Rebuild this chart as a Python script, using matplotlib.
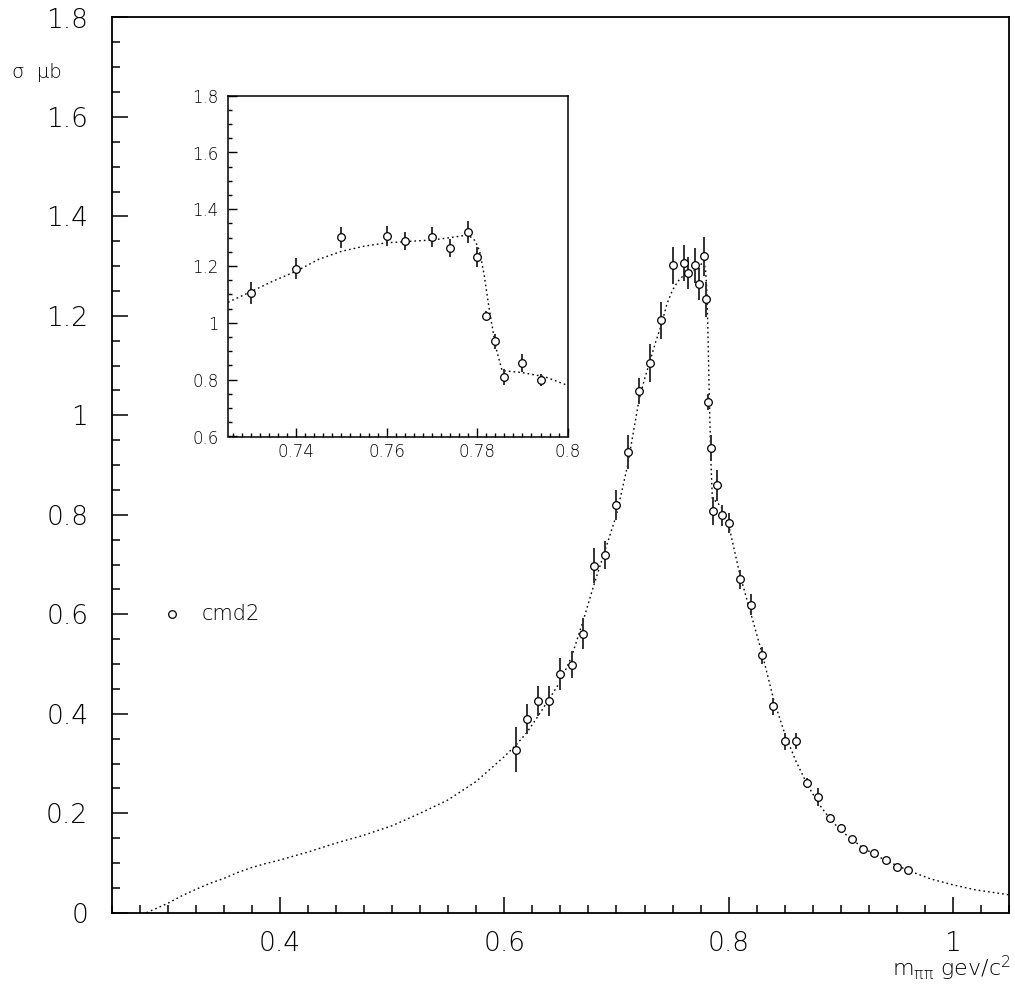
import matplotlib
matplotlib.use("Agg")
import matplotlib.pyplot as plt
import numpy as np
from matplotlib.ticker import MultipleLocator, FixedLocator

plt.rcParams['font.family'] = ['DejaVu Sans']
plt.rcParams['font.weight'] = 'light'
plt.rcParams['mathtext.fontset'] = 'custom'
plt.rcParams['mathtext.rm'] = 'DejaVu Sans:weight=light'
plt.rcParams['mathtext.it'] = 'DejaVu Sans:weight=light'
plt.rcParams['mathtext.default'] = 'regular'

# ---- data (cmd2 points) ----
mass = [0.61, 0.62, 0.63, 0.64, 0.65, 0.66, 0.67, 0.68, 0.69, 0.70,
        0.71, 0.72, 0.73, 0.74, 0.75, 0.76, 0.764, 0.77, 0.774, 0.778,
        0.78, 0.782, 0.784, 0.786, 0.79, 0.794, 0.80, 0.81, 0.82, 0.83,
        0.84, 0.85, 0.86, 0.87, 0.88, 0.89, 0.90, 0.91, 0.92, 0.93,
        0.94, 0.95, 0.96]
sigma = [0.328, 0.390, 0.426, 0.426, 0.480, 0.499, 0.561, 0.698, 0.720, 0.820,
         0.927, 1.049, 1.106, 1.191, 1.302, 1.306, 1.287, 1.302, 1.264, 1.320,
         1.233, 1.026, 0.935, 0.808, 0.859, 0.799, 0.783, 0.670, 0.619, 0.518,
         0.415, 0.345, 0.345, 0.260, 0.232, 0.191, 0.171, 0.148, 0.129, 0.120,
         0.106, 0.092, 0.085]
sigma_err = [0.046, 0.030, 0.030, 0.030, 0.032, 0.028, 0.031, 0.035, 0.028, 0.030,
             0.034, 0.027, 0.038, 0.037, 0.037, 0.036, 0.032, 0.035, 0.032, 0.039,
             0.036, 0.016, 0.026, 0.028, 0.031, 0.021, 0.020, 0.020, 0.021, 0.017,
             0.017, 0.017, 0.016, 0.010, 0.018, 0.008, 0.007, 0.006, 0.005, 0.005,
             0.004, 0.004, 0.004]

# ---- fit curve ----
curve_x = [0.281, 0.29, 0.30, 0.3125, 0.325, 0.3375, 0.35, 0.3625, 0.375, 0.3875,
           0.40, 0.425, 0.45, 0.475, 0.50, 0.525, 0.55, 0.575, 0.60, 0.61,
           0.62, 0.63, 0.64, 0.65, 0.66, 0.67, 0.68, 0.69, 0.70, 0.71,
           0.72, 0.725, 0.73, 0.735, 0.74, 0.745, 0.75, 0.755, 0.76, 0.765,
           0.77, 0.774, 0.778, 0.7795, 0.7805, 0.7815, 0.7826, 0.7841, 0.7855, 0.79,
           0.795, 0.80, 0.81, 0.82, 0.83, 0.84, 0.85, 0.86, 0.87, 0.88,
           0.89, 0.90, 0.92, 0.94, 0.96, 0.98, 1.00, 1.02, 1.05]
curve_y = [0.0, 0.009, 0.019, 0.034, 0.047, 0.059, 0.069, 0.081, 0.091, 0.099,
           0.106, 0.122, 0.140, 0.156, 0.175, 0.200, 0.227, 0.264, 0.314, 0.336,
           0.362, 0.395, 0.430, 0.465, 0.515, 0.585, 0.660, 0.730, 0.800, 0.900,
           1.030, 1.073, 1.110, 1.148, 1.182, 1.224, 1.252, 1.270, 1.282, 1.287,
           1.292, 1.300, 1.310, 1.290, 1.255, 1.173, 1.055, 0.914, 0.832, 0.825,
           0.810, 0.780, 0.680, 0.600, 0.520, 0.430, 0.360, 0.305, 0.258, 0.220,
           0.190, 0.165, 0.130, 0.105, 0.085, 0.068, 0.056, 0.046, 0.036]

legend_label = "cmd2"

main_xticks = [0.4, 0.6, 0.8, 1.0]
main_xticklabels = ['0.4', '0.6', '0.8', '1']
main_yticks = [0.0, 0.2, 0.4, 0.6, 0.8, 1.0, 1.2, 1.4, 1.6, 1.8]
main_yticklabels = ['0', '0.2', '0.4', '0.6', '0.8', '1', '1.2', '1.4', '1.6', '1.8']
inset_xticks = [0.74, 0.76, 0.78, 0.80]
inset_xticklabels = ['0.74', '0.76', '0.78', '0.8']
inset_yticks = [0.6, 0.8, 1.0, 1.2, 1.4, 1.6, 1.8]
inset_yticklabels = ['0.6', '0.8', '1', '1.2', '1.4', '1.6', '1.8']

fig = plt.figure(figsize=(10.15, 9.88), dpi=100)
W, H = 1015.0, 988.0

def box(l, t, r, b):
    return [l / W, 1 - b / H, (r - l) / W, (b - t) / H]

dot_style = dict(color='black', linestyle=(0, (1.2, 2.2)), linewidth=1.0)
mk = dict(ms=5.5, mfc='white', mec='black', mew=0.9)

# ---- main axes ----
ax = fig.add_axes(box(111.8, 17.5, 1009.0, 912.7))
ax.plot(curve_x, curve_y, **dot_style)
ax.errorbar(mass, sigma, yerr=sigma_err, fmt='none', ecolor='#333333',
            elinewidth=1.4, capsize=0, zorder=3)
ax.plot(mass, sigma, 'o', zorder=4, **mk)
ax.set_xlim(0.25, 1.05)
ax.set_ylim(0, 1.8)
ax.xaxis.set_major_locator(FixedLocator(main_xticks))
ax.xaxis.set_minor_locator(MultipleLocator(0.025))
ax.yaxis.set_major_locator(FixedLocator(main_yticks))
ax.yaxis.set_minor_locator(MultipleLocator(0.05))
ax.set_xticklabels(main_xticklabels)
ax.set_yticklabels(main_yticklabels)
ax.tick_params(which='both', direction='in', top=False, right=False, width=1.1)
ax.tick_params(which='major', length=11.5, labelsize=19)
ax.tick_params(which='minor', length=6)
ax.tick_params(axis='y', which='major', pad=17)
ax.tick_params(axis='x', which='major', pad=13)
for s in ax.spines.values():
    s.set_linewidth(1.3)

# legend entry
ax.plot([0.3035], [0.6], 'o', **mk)
fig.text(201.7 / W, 1 - 614 / H, legend_label, fontsize=15, ha='left', va='center')

# axis titles
fig.text(62 / W, 1 - 72 / H, 'σ  μb', fontsize=14, ha='right', va='center')
fig.text(1011 / W, 1 - 976 / H, r'm$_{\pi\pi}$ gev/c$^{2}$', fontsize=16,
         ha='right', va='baseline')

# ---- inset ----
ins = fig.add_axes(box(228.3, 95.7, 567.7, 436.5))
ins_mask = [i for i, m in enumerate(mass) if 0.725 <= m < 0.799]
ix = [mass[i] for i in ins_mask]
iy = [sigma[i] for i in ins_mask]
ie = [sigma_err[i] for i in ins_mask]
ins.plot(curve_x, curve_y, **dot_style)
ins.errorbar(ix, iy, yerr=ie, fmt='none', ecolor='#333333', elinewidth=1.4,
             capsize=0, zorder=3)
ins.plot(ix, iy, 'o', zorder=4, **mk)
ins.set_xlim(0.725, 0.8)
ins.set_ylim(0.6, 1.8)
ins.xaxis.set_major_locator(FixedLocator(inset_xticks))
ins.xaxis.set_minor_locator(MultipleLocator(0.002))
ins.yaxis.set_major_locator(FixedLocator(inset_yticks))
ins.yaxis.set_minor_locator(MultipleLocator(0.05))
ins.set_xticklabels(inset_xticklabels)
ins.set_yticklabels(inset_yticklabels)
ins.tick_params(which='both', direction='in', top=False, right=False, width=1.0)
ins.tick_params(which='major', length=6.5, labelsize=12)
ins.tick_params(which='minor', length=3)
ins.tick_params(axis='y', which='major', pad=7)
ins.tick_params(axis='x', which='major', pad=5)
for s in ins.spines.values():
    s.set_linewidth(1.1)

fig.savefig('out.png', dpi=100)
